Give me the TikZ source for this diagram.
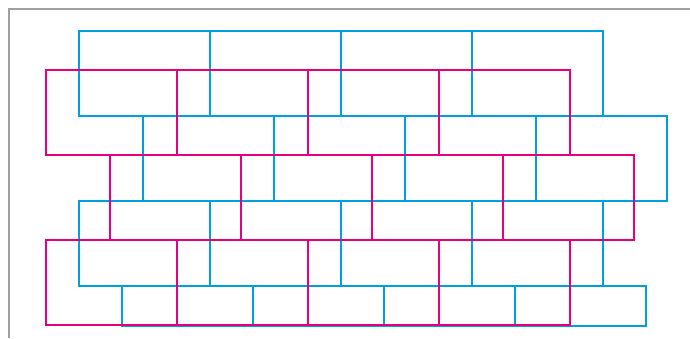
\documentclass[tikz,border=0pt]{standalone}
\usepackage{tikz}
\definecolor{brickblue}{HTML}{00A0E0}
\definecolor{brickpink}{HTML}{E6007E}
\definecolor{framegray}{HTML}{A0A0A0}

\begin{document}
\begin{tikzpicture}[
    x=1pt, y=-1pt,
    blue/.style  = {rectangle, draw=brickblue, line width=1.6pt, anchor=north west,
                    inner sep=0pt, outer sep=0pt, minimum width=131pt, minimum height=85pt},
    bluelow/.style = {blue, minimum height=40pt},
    pink/.style  = {rectangle, draw=brickpink, line width=1.6pt, anchor=north west,
                    inner sep=0pt, outer sep=0pt, minimum width=131pt, minimum height=85pt},
    frame/.style = {framegray, line width=1.5pt},
  ]
    \useasboundingbox (0,0) rectangle (690,338);
    \draw[frame] (9,338) -- (9,9) -- (690,9);

    % ── Blue row 1 ───────────────────────────────────────────
    \node[blue] (b11) at ( 79, 31) {};
    \node[blue] (b12) at (210, 31) {};
    \node[blue] (b13) at (341, 31) {};
    \node[blue] (b14) at (472, 31) {};

    % ── Blue row 2 ───────────────────────────────────────────
    \node[blue] (b21) at (143,116) {};
    \node[blue] (b22) at (274,116) {};
    \node[blue] (b23) at (405,116) {};
    \node[blue] (b24) at (536,116) {};

    % ── Blue row 3 ───────────────────────────────────────────
    \node[blue] (b31) at ( 79,201) {};
    \node[blue] (b32) at (210,201) {};
    \node[blue] (b33) at (341,201) {};
    \node[blue] (b34) at (472,201) {};

    % ── Blue row 4 (low) ─────────────────────────────────────
    \node[bluelow] (b41) at (122,286) {};
    \node[bluelow] (b42) at (253,286) {};
    \node[bluelow] (b43) at (384,286) {};
    \node[bluelow] (b44) at (515,286) {};

    % ── Pink row 1 ───────────────────────────────────────────
    \node[pink] (p11) at ( 46, 70) {};
    \node[pink] (p12) at (177, 70) {};
    \node[pink] (p13) at (308, 70) {};
    \node[pink] (p14) at (439, 70) {};

    % ── Pink row 2 ───────────────────────────────────────────
    \node[pink] (p21) at (110,155) {};
    \node[pink] (p22) at (241,155) {};
    \node[pink] (p23) at (372,155) {};
    \node[pink] (p24) at (503,155) {};

    % ── Pink row 3 ───────────────────────────────────────────
    \node[pink] (p31) at ( 46,240) {};
    \node[pink] (p32) at (177,240) {};
    \node[pink] (p33) at (308,240) {};
    \node[pink] (p34) at (439,240) {};

  \end{tikzpicture}
\end{document}
